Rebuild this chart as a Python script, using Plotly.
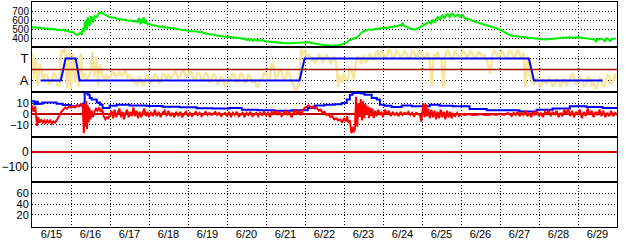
import plotly.graph_objects as go
from plotly.subplots import make_subplots

# ---------------- data (time in days since 6/15 00:00) ----------------
day_labels = ["6/15", "6/16", "6/17", "6/18", "6/19", "6/20", "6/21", "6/22",
              "6/23", "6/24", "6/25", "6/26", "6/27", "6/28", "6/29"]

green_pts = [(0.0, 533), (0.05, 522), (0.1, 528), (0.15, 515), (0.2, 526), (0.25, 512), (0.3, 520), (0.35, 508),
             (0.4, 518), (0.45, 502), (0.5, 512), (0.55, 500), (0.6, 510), (0.65, 495), (0.71, 503), (0.76, 492),
             (0.81, 500), (0.86, 485), (0.92, 490), (0.97, 476), (1.02, 480), (1.06, 468), (1.1, 462), (1.15, 440),
             (1.2, 455), (1.25, 470), (1.28, 445), (1.3, 520), (1.33, 480), (1.36, 600), (1.38, 560), (1.41, 500),
             (1.43, 640), (1.45, 600), (1.48, 540), (1.51, 650), (1.53, 640), (1.56, 580), (1.61, 650), (1.66, 640),
             (1.71, 680), (1.76, 692), (1.81, 685), (1.85, 670), (1.89, 665), (1.94, 650), (1.99, 645), (2.05, 632),
             (2.12, 635), (2.18, 622), (2.25, 620), (2.31, 608), (2.38, 612), (2.44, 600), (2.5, 597), (2.55, 604),
             (2.61, 590), (2.66, 596), (2.71, 585), (2.74, 630), (2.76, 600), (2.79, 560), (2.81, 620), (2.84, 575),
             (2.86, 640), (2.9, 565), (2.92, 600), (2.97, 558), (3.02, 565), (3.08, 550), (3.15, 548), (3.21, 540),
             (3.28, 533), (3.34, 536), (3.4, 525), (3.46, 528), (3.53, 518), (3.59, 520), (3.66, 510), (3.72, 508),
             (3.79, 502), (3.85, 500), (3.92, 492), (3.98, 490), (4.04, 485), (4.1, 484), (4.17, 478), (4.23, 480),
             (4.3, 472), (4.35, 474), (4.4, 466), (4.45, 458), (4.5, 452), (4.55, 448), (4.61, 448), (4.66, 440),
             (4.71, 440), (4.76, 432), (4.81, 434), (4.88, 428), (4.94, 430), (5.0, 420), (5.07, 422), (5.13, 414),
             (5.2, 415), (5.27, 408), (5.33, 411), (5.39, 398), (5.45, 402), (5.5, 384), (5.55, 400), (5.58, 380),
             (5.62, 398), (5.66, 378), (5.71, 394), (5.76, 380), (5.8, 392), (5.84, 376), (5.9, 385), (5.97, 372),
             (6.03, 370), (6.09, 367), (6.15, 364), (6.22, 360), (6.28, 358), (6.35, 356), (6.42, 352), (6.48, 350),
             (6.55, 352), (6.61, 348), (6.68, 352), (6.74, 354), (6.8, 356), (6.86, 357), (6.93, 360), (6.99, 362),
             (7.05, 358), (7.12, 360), (7.18, 352), (7.25, 345), (7.31, 340), (7.38, 337), (7.44, 332), (7.5, 330),
             (7.57, 326), (7.63, 322), (7.7, 323), (7.76, 325), (7.82, 326), (7.89, 330), (7.95, 338), (8.02, 348),
             (8.08, 362), (8.15, 385), (8.21, 398), (8.27, 405), (8.33, 410), (8.38, 440), (8.45, 470), (8.5, 482),
             (8.56, 490), (8.61, 500), (8.66, 504), (8.72, 496), (8.79, 510), (8.85, 505), (8.92, 515), (8.98, 520),
             (9.04, 525), (9.1, 518), (9.17, 533), (9.23, 528), (9.3, 540), (9.36, 536), (9.43, 552), (9.47, 545),
             (9.5, 580), (9.53, 548), (9.56, 540), (9.62, 530), (9.69, 515), (9.75, 508), (9.82, 504), (9.88, 512),
             (9.94, 522), (10.0, 540), (10.07, 560), (10.14, 575), (10.2, 589), (10.24, 570), (10.28, 610), (10.33, 580),
             (10.37, 625), (10.41, 640), (10.46, 615), (10.5, 650), (10.53, 660), (10.58, 625), (10.62, 665), (10.66, 670),
             (10.71, 640), (10.75, 675), (10.79, 680), (10.84, 645), (10.88, 662), (10.92, 670), (10.97, 645), (11.01, 660),
             (11.05, 665), (11.09, 630), (11.12, 620), (11.18, 618), (11.23, 615), (11.29, 600), (11.35, 590), (11.42, 578),
             (11.48, 570), (11.55, 560), (11.61, 555), (11.68, 546), (11.74, 541), (11.8, 530), (11.87, 522), (11.94, 512),
             (12.0, 504), (12.06, 488), (12.12, 470), (12.19, 452), (12.25, 441), (12.31, 434), (12.38, 430), (12.44, 424),
             (12.5, 422), (12.57, 420), (12.63, 418), (12.7, 414), (12.76, 411), (12.82, 404), (12.89, 400), (12.95, 396),
             (13.02, 393), (13.08, 394), (13.15, 392), (13.21, 396), (13.28, 396), (13.34, 400), (13.4, 400), (13.47, 406),
             (13.53, 404), (13.6, 410), (13.66, 410), (13.72, 416), (13.79, 415), (13.85, 410), (13.91, 412), (13.98, 418),
             (14.04, 415), (14.1, 412), (14.17, 408), (14.23, 406), (14.3, 404), (14.36, 400), (14.43, 390), (14.46, 365),
             (14.5, 398), (14.56, 393), (14.62, 400), (14.69, 370), (14.73, 402), (14.77, 400), (14.82, 375), (14.87, 395),
             (14.92, 402), (14.97, 404)]

yellow_pts = [(0.0, 1.5), (0.05, -0.8), (0.1, 1.0), (0.15, -1.5), (0.2, 0.5), (0.25, -0.3), (0.3, -1.0), (0.35, -0.4),
              (0.4, -0.6), (0.45, -1.3), (0.5, -1.2), (0.55, -0.3), (0.6, -0.5), (0.65, -1.4), (0.7, -1.5), (0.75, 1.8),
              (0.8, 1.5), (0.85, 1.9), (0.9, -1.7), (0.95, 1.6), (1.0, -1.8), (1.05, 1.5), (1.1, -1.2), (1.15, 0.5),
              (1.2, -1.6), (1.25, 1.5), (1.3, -0.8), (1.35, -0.3), (1.4, -1.0), (1.45, -0.6), (1.5, -0.4), (1.55, 1.6),
              (1.6, -0.7), (1.65, 1.2), (1.7, -1.5), (1.75, 0.5), (1.8, -0.5), (1.85, -0.9), (1.9, -0.4), (1.95, -0.8),
              (2.0, -0.7), (2.05, -0.2), (2.1, -0.3), (2.15, -0.7), (2.2, -0.5), (2.25, -0.2), (2.3, -0.6), (2.35, -0.3),
              (2.4, -0.2), (2.45, -0.7), (2.5, -0.5), (2.55, -0.9), (2.6, -0.8), (2.65, -1.3), (2.7, -1.4), (2.75, -0.6),
              (2.8, -0.9), (2.85, -1.5), (2.9, -1.2), (2.95, -0.5), (3.0, -0.8), (3.05, -1.3), (3.1, -1.0), (3.15, -0.4),
              (3.2, -0.6), (3.25, -1.2), (3.3, -1.1), (3.35, -0.4), (3.4, -0.5), (3.45, -0.9), (3.5, -0.4), (3.55, -0.8),
              (3.6, -0.7), (3.65, -0.2), (3.7, -0.3), (3.75, -0.8), (3.8, -0.6), (3.85, -0.1), (3.9, -0.2), (3.95, -0.7),
              (4.0, -0.5), (4.05, -0.1), (4.1, -0.3), (4.15, -0.9), (4.2, -0.8), (4.25, -0.3), (4.3, -0.4), (4.35, -1.0),
              (4.4, -0.9), (4.45, -0.3), (4.5, -0.5), (4.55, -1.1), (4.6, -1.0), (4.65, -0.4), (4.7, -0.6), (4.75, -1.3),
              (4.8, -1.2), (4.85, -0.6), (4.9, -0.8), (4.95, -1.5), (5.0, -1.4), (5.05, -0.7), (5.1, -0.9), (5.15, -0.3),
              (5.2, -0.6), (5.25, -1.2), (5.3, -1.0), (5.35, -0.3), (5.4, -0.5), (5.45, -1.2), (5.5, -1.1), (5.55, -0.4),
              (5.6, -0.7), (5.65, -1.2), (5.7, -0.9), (5.75, -1.5), (5.8, -1.6), (5.85, -0.8), (5.9, -1.0), (5.95, -0.2),
              (6.0, -0.4), (6.05, -1.0), (6.1, -0.8), (6.15, 0.6), (6.2, 0.3), (6.25, -0.9), (6.3, -0.5), (6.35, 0.1),
              (6.4, -0.2), (6.45, -1.0), (6.5, -0.8), (6.55, -0.1), (6.6, -0.4), (6.65, -1.1), (6.7, -1.3), (6.75, -1.9),
              (6.8, -1.8), (6.85, -1.2), (6.9, 1.9), (6.95, 1.3), (7.0, 1.7), (7.05, 1.1), (7.1, 1.4), (7.15, 0.8),
              (7.2, 1.0), (7.25, 0.6), (7.3, 0.8), (7.35, 1.4), (7.4, 1.2), (7.45, 0.6), (7.5, 0.9), (7.55, 1.4),
              (7.6, 1.1), (7.65, 0.5), (7.7, 0.8), (7.75, 1.2), (7.8, 0.6), (7.85, -1.6), (7.9, -0.5), (7.95, -1.2),
              (8.0, -0.3), (8.05, -1.0), (8.1, -0.8), (8.15, 0.1), (8.2, -0.2), (8.25, -0.9), (8.3, 0.5), (8.35, 1.2),
              (8.4, 1.0), (8.45, 0.5), (8.5, 1.3), (8.55, 0.7), (8.6, 0.8), (8.65, 1.5), (8.7, 1.2), (8.75, 0.8),
              (8.8, 1.4), (8.85, 1.7), (8.9, 1.1), (8.95, 1.6), (9.0, 1.5), (9.05, 1.1), (9.1, 1.3), (9.15, 1.8),
              (9.2, 1.6), (9.25, 1.1), (9.3, 1.2), (9.35, 1.7), (9.4, 1.5), (9.45, 1.1), (9.5, 1.3), (9.55, 1.7),
              (9.6, 1.4), (9.65, 1.0), (9.7, 1.1), (9.75, 1.7), (9.8, 1.6), (9.85, 1.1), (9.9, 1.3), (9.95, 1.7),
              (10.0, 1.4), (10.05, 1.0), (10.1, 1.2), (10.15, 1.6), (10.2, 0.8), (10.25, -1.5), (10.3, 1.4), (10.35, 0.9),
              (10.4, 1.6), (10.45, 1.0), (10.5, 0.9), (10.55, -1.7), (10.6, 1.3), (10.65, 1.8), (10.7, 1.5), (10.75, 0.9),
              (10.8, 1.1), (10.85, 1.7), (10.9, 1.4), (10.95, 1.0), (11.0, 1.2), (11.05, 1.7), (11.1, 1.5), (11.15, 1.1),
              (11.2, 1.3), (11.25, 1.7), (11.3, 1.4), (11.35, 1.0), (11.4, 1.2), (11.45, 1.6), (11.5, 1.5), (11.55, 1.1),
              (11.6, 1.3), (11.65, 0.9), (11.7, 0.4), (11.75, -0.4), (11.8, 1.2), (11.85, 1.7), (11.9, 1.5), (11.95, 1.1),
              (12.0, 1.3), (12.05, 1.7), (12.1, 1.4), (12.15, 1.0), (12.2, 1.2), (12.25, 1.7), (12.3, 1.5), (12.35, 1.1),
              (12.4, 1.3), (12.45, 1.8), (12.5, 1.4), (12.55, 1.0), (12.6, 1.5), (12.65, -1.6), (12.7, 1.2), (12.75, -0.5),
              (12.8, -0.8), (12.85, -1.4), (12.9, -1.1), (12.95, -0.7), (13.0, -1.2), (13.05, -1.6), (13.1, -0.9), (13.15, -1.1),
              (13.2, -1.3), (13.25, -0.8), (13.3, -1.0), (13.35, -1.5), (13.4, -1.4), (13.45, -0.9), (13.5, -1.1), (13.55, -1.6),
              (13.6, -1.2), (13.65, -0.8), (13.7, -1.5), (13.75, -1.1), (13.8, -1.0), (13.85, -0.3), (13.9, -0.7), (13.95, -1.4),
              (14.0, -1.2), (14.05, -0.6), (14.1, -0.9), (14.15, -1.6), (14.2, -1.4), (14.25, -0.7), (14.3, -0.8), (14.35, -1.5),
              (14.4, -1.2), (14.45, -1.8), (14.5, -1.5), (14.55, -0.8), (14.6, -0.9), (14.65, -1.6), (14.7, -1.3), (14.75, -0.5),
              (14.8, -0.6), (14.85, -1.4), (14.9, -1.1), (14.95, -0.4), (15.0, -0.8)]

mode_pts = [(0.22, -1), (0.74, -1), (0.86, 1), (1.12, 1), (1.22, -1), (6.86, -1), (6.99, 1),
            (12.74, 1), (12.87, -1), (14.63, -1)]
mode_ticks = [-1, 1]
mode_labels = ["A", "T"]

blue_pts = [(0.0, 11.8), (0.06, 9.0), (0.1, 11.5), (0.15, 9.2), (0.2, 9.6), (0.27, 10.8), (0.45, 10.8), (0.63, 9.6),
            (0.79, 8.4), (0.97, 7.1), (1.15, 8.0), (1.3, 9.6), (1.34, 10.0), (1.35, 19.6), (1.43, 18.0), (1.48, 15.0),
            (1.53, 13.4), (1.66, 10.8), (1.74, 8.7), (1.81, 5.6), (1.99, 7.7), (2.17, 8.7), (2.5, 8.0), (2.94, 7.4),
            (3.35, 6.8), (3.79, 6.2), (4.22, 5.3), (4.63, 5.0), (5.07, 5.6), (5.38, 4.0), (5.79, 3.4), (6.22, 3.1),
            (6.66, 3.4), (7.07, 5.6), (7.25, 8.0), (7.5, 8.7), (7.76, 9.0), (7.94, 10.3), (8.07, 13.4), (8.15, 18.0),
            (8.22, 19.6), (8.35, 19.6), (8.45, 19.0), (8.53, 18.0), (8.71, 15.0), (8.84, 13.4), (8.92, 8.7), (9.04, 7.7),
            (9.22, 6.5), (9.48, 8.0), (9.74, 7.1), (9.94, 7.1), (10.2, 8.7), (10.45, 7.7), (10.79, 7.1), (11.22, 4.7),
            (11.66, 3.4), (12.07, 3.4), (12.5, 2.4), (12.94, 4.0), (13.35, 5.0), (13.79, 7.1), (14.22, 6.5), (14.63, 5.6),
            (15.0, 6.5)]

red_pts = [(0.0, 8), (0.04, 2), (0.08, 7), (0.11, -4), (0.13, -11), (0.16, -3), (0.19, -8), (0.23, -5), (0.27, -8),
           (0.31, -6), (0.35, -9), (0.39, -6), (0.43, -8), (0.47, -6), (0.51, -9), (0.55, -7), (0.59, -8), (0.63, -6),
           (0.67, -4), (0.71, -1), (0.75, 2), (0.8, 4), (0.85, 6), (0.9, 5), (0.95, 7), (1.0, 6), (1.05, 7), (1.1, 6),
           (1.15, 8), (1.2, 7), (1.25, 9), (1.3, 8), (1.33, -18), (1.35, 10), (1.37, -12), (1.39, 12), (1.41, -14),
           (1.43, 8), (1.45, -8), (1.47, 6), (1.5, -5), (1.53, 3), (1.56, -3), (1.6, 2), (1.64, 5), (1.68, 3), (1.72, 6),
           (1.76, 2), (1.8, 4), (1.84, -2), (1.88, -5), (1.92, -3), (1.96, -4), (2.0, -1), (2.04, 3), (2.08, -4),
           (2.12, 4), (2.16, -3), (2.2, 2), (2.24, 5), (2.28, -3), (2.32, 2), (2.36, -5), (2.4, 1), (2.44, 4), (2.48, -3),
           (2.52, 2), (2.56, -2), (2.6, 6), (2.64, -2), (2.68, 3), (2.72, -4), (2.76, 2), (2.8, -3), (2.84, 1), (2.88, 5),
           (2.92, -2), (2.96, 2), (3.0, -3), (3.05, 2), (3.1, -2), (3.15, 4), (3.2, -2), (3.25, 2), (3.3, -3), (3.35, 1),
           (3.4, 3), (3.45, -2), (3.5, 3), (3.55, -2), (3.6, 1), (3.65, -3), (3.7, 2), (3.75, -2), (3.8, 2), (3.85, -3),
           (3.9, 0), (3.95, 2), (4.0, -2), (4.05, 1), (4.1, -2), (4.15, 0), (4.2, 2), (4.25, -1), (4.3, 1), (4.35, -2),
           (4.4, 0), (4.45, 2), (4.5, -1), (4.55, 1), (4.6, -1), (4.65, 0), (4.7, 2), (4.75, -1), (4.8, 1), (4.85, -2),
           (4.9, 0), (4.95, 1), (5.0, -2), (5.05, 2), (5.1, -3), (5.15, 1), (5.2, -1), (5.25, 2), (5.3, -2), (5.35, 0),
           (5.4, 1), (5.45, -3), (5.5, 1), (5.55, -1), (5.6, 2), (5.65, -2), (5.7, 0), (5.75, 1), (5.8, -2), (5.85, 1),
           (5.9, -1), (5.95, 2), (6.0, -1), (6.05, 1), (6.1, -3), (6.15, 2), (6.2, 0), (6.25, 3), (6.3, -1), (6.35, 2),
           (6.4, -2), (6.45, 1), (6.5, 3), (6.55, -1), (6.6, 2), (6.65, -3), (6.7, 1), (6.75, 4), (6.8, 0), (6.85, 3),
           (6.9, -1), (6.95, 4), (7.0, 6), (7.05, 7), (7.1, 8), (7.15, 6), (7.2, 7), (7.25, 5), (7.3, 6), (7.35, 3),
           (7.4, 4), (7.45, 1), (7.5, 2), (7.55, -1), (7.6, 0), (7.65, -3), (7.7, -2), (7.75, -5), (7.8, -4), (7.85, -6),
           (7.9, -5), (7.95, -8), (8.0, -4), (8.05, -7), (8.08, -2), (8.11, -8), (8.15, -6), (8.19, -18), (8.22, -12),
           (8.25, -17), (8.28, -14), (8.31, 16), (8.34, -12), (8.37, 10), (8.4, -3), (8.43, 14), (8.46, -6), (8.49, 12),
           (8.52, -4), (8.55, 9), (8.58, 0), (8.61, 7), (8.64, -4), (8.67, 6), (8.7, -2), (8.73, 5), (8.76, -4), (8.8, 3),
           (8.84, -2), (8.88, 4), (8.92, -1), (8.96, 2), (9.0, -3), (9.05, 4), (9.1, 0), (9.15, 3), (9.2, -2), (9.25, 2),
           (9.3, -1), (9.35, 1), (9.4, -2), (9.45, 2), (9.5, -1), (9.55, 1), (9.6, 0), (9.65, 2), (9.7, -1), (9.75, 1),
           (9.8, -2), (9.85, 1), (9.9, 0), (9.95, -1), (9.98, -7), (10.01, 3), (10.04, 10), (10.07, -3), (10.1, 9),
           (10.13, -2), (10.16, 5), (10.2, -4), (10.24, 4), (10.28, -3), (10.32, 3), (10.36, -5), (10.4, 2), (10.44, -4),
           (10.48, 4), (10.52, -3), (10.56, 2), (10.6, -5), (10.64, 3), (10.68, -3), (10.72, 2), (10.76, -4), (10.8, 0),
           (10.85, -2), (10.9, 1), (10.95, -2), (11.0, 0), (11.1, -1), (11.2, 0), (11.3, -1), (11.4, -1), (11.5, 0),
           (11.6, -1), (11.7, -1), (11.8, 0), (11.9, -1), (12.0, 0), (12.1, -1), (12.2, 1), (12.3, -2), (12.35, 1),
           (12.4, -1), (12.45, 2), (12.5, -2), (12.55, 1), (12.6, -1), (12.65, 3), (12.7, -2), (12.75, 1), (12.8, -3),
           (12.85, 2), (12.9, -1), (12.95, 3), (13.0, -2), (13.05, 1), (13.1, -3), (13.15, 2), (13.2, 0), (13.25, 4),
           (13.3, -2), (13.35, 2), (13.4, -1), (13.45, 3), (13.5, -3), (13.55, 1), (13.6, -2), (13.65, 4), (13.7, 0),
           (13.75, 5), (13.8, -2), (13.85, 3), (13.9, -3), (13.95, 2), (14.0, -1), (14.05, 4), (14.1, -4), (14.15, 2),
           (14.2, -2), (14.25, 5), (14.3, -1), (14.35, 3), (14.4, -3), (14.45, 2), (14.5, -1), (14.55, 4), (14.6, -2),
           (14.65, 3), (14.7, -3), (14.75, 1), (14.8, -2), (14.85, 3), (14.9, -2), (14.95, 1), (15.0, -1)]

p1_ticks = [400, 500, 600, 700]
p3_ticks = [-10, 0, 10]
p4_ticks = [-100, 0]
p5_ticks = [20, 40, 60]

# ---------------- figure ----------------
FONT = "Liberation Sans"
DOT = "1px,2px"

fig = make_subplots(rows=5, cols=1, shared_xaxes=True, vertical_spacing=0)


def xy(pts):
    return [p[0] for p in pts], [p[1] for p in pts]


gx, gy = xy(green_pts)
fig.add_trace(go.Scatter(x=gx, y=gy, mode="lines", line=dict(color="#00F000", width=2)), row=1, col=1)

yx, yy = xy(yellow_pts)
fig.add_trace(go.Scatter(x=yx, y=yy, mode="lines", line=dict(color="#F8E69E", width=2.5)), row=2, col=1)
mx, my = xy(mode_pts)
fig.add_trace(go.Scatter(x=mx, y=my, mode="lines", line=dict(color="#0000FF", width=2)), row=2, col=1)

bx, by = xy(blue_pts)
rx, ry = xy(red_pts)
fig.add_trace(go.Scatter(x=bx, y=by, mode="lines", line=dict(color="#0000FF", width=2, shape="hv")), row=3, col=1)
fig.add_trace(go.Scatter(x=rx, y=ry, mode="lines", line=dict(color="#FF0000", width=2)), row=3, col=1)

# empty traces so that the two lower (data-less) panels are still drawn
fig.add_trace(go.Scatter(x=[], y=[], mode="lines", hoverinfo="skip"), row=4, col=1)
fig.add_trace(go.Scatter(x=[], y=[], mode="lines", hoverinfo="skip"), row=5, col=1)

fig.update_layout(
    width=628, height=244,
    margin=dict(l=32, r=11, t=2, b=17),
    paper_bgcolor="white", plot_bgcolor="white",
    showlegend=False,
    font=dict(family=FONT, color="black", size=12),
)

fig.update_xaxes(
    range=[0, 15],
    tickmode="array",
    tickvals=[i + 0.5 for i in range(len(day_labels))],
    ticktext=day_labels,
    tickfont=dict(size=11, family=FONT),
    ticks="",
    ticklabelstandoff=-3,
    showgrid=False,
    zeroline=False,
    showline=True, linecolor="black", linewidth=1, mirror=True,
    minor=dict(tickmode="array", tickvals=list(range(1, 15)), showgrid=True,
               gridcolor="black", gridwidth=1, griddash=DOT, ticks=""),
    fixedrange=True,
)

common_y = dict(showgrid=True, gridcolor="black", gridwidth=1, griddash=DOT,
                ticks="", showline=True, linecolor="black", linewidth=1, mirror=True,
                fixedrange=True, tickmode="array")

fig.update_yaxes(row=1, col=1, range=[308, 808], tickvals=p1_ticks, zeroline=False,
                 tickfont=dict(size=10), **common_y)
fig.update_yaxes(row=2, col=1, range=[-2.05, 2.05], tickvals=mode_ticks, ticktext=mode_labels, zeroline=False,
                 tickfont=dict(size=13), **common_y)
fig.update_yaxes(row=3, col=1, range=[-21.5, 20.5], tickvals=p3_ticks,
                 zeroline=True, zerolinecolor="#C00000", zerolinewidth=1.5,
                 tickfont=dict(size=11), **common_y)
fig.update_yaxes(row=4, col=1, range=[-200, 100], tickvals=p4_ticks,
                 zeroline=True, zerolinecolor="#D00000", zerolinewidth=1.5,
                 tickfont=dict(size=12), **common_y)
fig.update_yaxes(row=5, col=1, range=[-2.5, 81], tickvals=p5_ticks, zeroline=False,
                 tickfont=dict(size=11), **common_y)

# dark red mid line of the mode panel, drawn over the yellow trace
fig.add_hline(y=0, row=2, col=1, line=dict(color="#A80000", width=1.5), layer="above")

fig.write_html("out.html")
